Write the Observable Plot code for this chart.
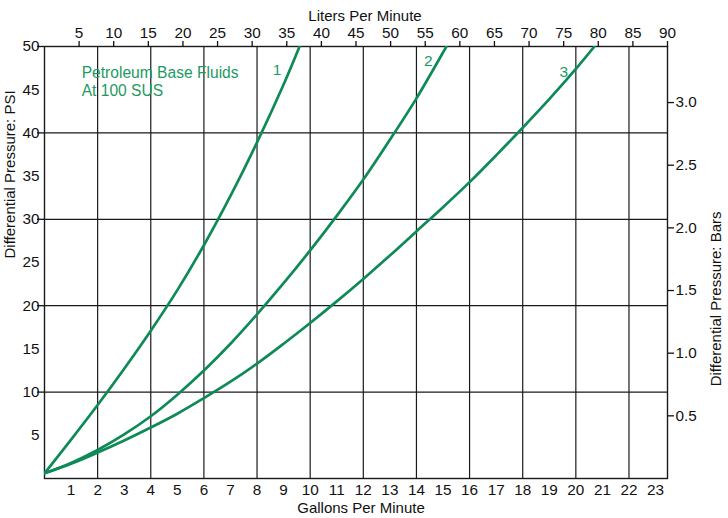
<!DOCTYPE html>
<html><head><meta charset="utf-8">
<script src="https://cdn.jsdelivr.net/npm/d3@7"></script>
<script src="https://cdn.jsdelivr.net/npm/@observablehq/plot@0.6"></script>
<style>body{margin:0;background:#fff}#chart svg{overflow:visible}</style>
</head><body><div id="chart"></div>
<script>
// Curve 1
const curve1Gpm = [0, 1, 2, 3, 4, 5, 6, 7, 8, 9, 9.6];
const curve1Psi = [0.6, 4.5, 8.5, 12.7, 17.1, 21.8, 27.0, 32.7, 38.9, 45.6, 50];
// Curve 2
const curve2Gpm = [0, 1, 2, 3, 4, 5, 6, 7, 8, 9, 10, 11, 12, 13, 14, 15, 15.13];
const curve2Psi = [0.6, 1.8, 3.3, 5.1, 7.2, 9.7, 12.5, 15.6, 19.0, 22.6, 26.4, 30.4, 34.6, 39.2, 44.0, 49.3, 50];
// Curve 3
const curve3Gpm = [0, 1, 2, 3, 4, 5, 6, 7, 8, 9, 10, 11, 12, 13, 14, 15, 16, 17, 18, 19, 20, 20.7];
const curve3Psi = [0.6, 1.7, 3.0, 4.4, 5.9, 7.5, 9.3, 11.2, 13.3, 15.6, 18.0, 20.5, 23.1, 25.8, 28.6, 31.4, 34.3, 37.4, 40.6, 43.9, 47.4, 50];

const curveLabels = ["1", "2", "3"];
const curveLabelGpm = [8.75, 14.45, 19.55];
const curveLabelPsi = [47.3, 48.3, 47.0];

const noteText = "Petroleum Base Fluids\nAt 100 SUS";
const noteGpm = 1.4, notePsi = 46.0;

const gpmTicks = d3.range(1, 24);
const literTicks = d3.range(5, 95, 5);
const psiTicks = d3.range(5, 55, 5);
const psiMajor = [10, 20, 30, 40, 50];
const barTicks = [0.5, 1.0, 1.5, 2.0, 2.5, 3.0];
const gridGpm = d3.range(2, 23, 2);
const gridPsi = [10, 20, 30, 40];

const GPM_MAX = 23.45, LPM_MAX = 90, PSI_MAX = 50, PSI_PER_BAR = 14.5038;

const rows = [];
[[curve1Gpm, curve1Psi, "1"], [curve2Gpm, curve2Psi, "2"], [curve3Gpm, curve3Psi, "3"]]
  .forEach(([xs, ys, k]) => xs.forEach((x, i) => rows.push({curve: k, gpm: x, psi: ys[i]})));
const labelRows = curveLabels.map((t, i) => ({t, gpm: curveLabelGpm[i], psi: curveLabelPsi[i]}));

const green = "#0e8a57", textGreen = "#1d9a62";
const tickFont = 15.3, titleFont = 15;

const chart = Plot.plot({
  width: 728, height: 518,
  marginLeft: 44, marginRight: 61, marginTop: 46, marginBottom: 40,
  style: {fontFamily: "'Liberation Sans', Arial, sans-serif", fontSize: "15px", color: "#111", background: "#fff"},
  x: {domain: [0, GPM_MAX], axis: null, label: null},
  y: {domain: [0, PSI_MAX], axis: null, label: null},
  marks: [
    Plot.ruleX(gridGpm, {stroke: "#1a1a1a", strokeWidth: 1.2}),
    Plot.ruleY(gridPsi, {stroke: "#1a1a1a", strokeWidth: 1.2}),
    Plot.frame({stroke: "#1a1a1a", strokeWidth: 1.4}),
    // bottom axis (gallons)
    Plot.axisX(gpmTicks, {anchor: "bottom", label: null, tickSize: 0, tickPadding: 6, fontSize: tickFont, tickFormat: d => d}),
    // top axis (liters)
    Plot.axisX(literTicks.map(l => l * GPM_MAX / LPM_MAX), {anchor: "top", label: null, tickSize: 6, tickPadding: 3, strokeWidth: 1.3, fontSize: tickFont,
      tickFormat: d => Math.round(d * LPM_MAX / GPM_MAX)}),
    // left axis (psi)
    Plot.axisY(psiMajor, {anchor: "left", label: null, tickSize: 7, strokeWidth: 1.3, text: null}),
    Plot.axisY(psiTicks, {anchor: "left", label: null, tickSize: 0, tickPadding: 5, fontSize: tickFont, tickFormat: d => d}),
    // right axis (bars)
    Plot.axisY(barTicks.map(b => b * PSI_PER_BAR), {anchor: "right", label: null, tickSize: 6, tickPadding: 2, strokeWidth: 1.3, fontSize: tickFont,
      tickFormat: d => (d / PSI_PER_BAR).toFixed(1)}),
    // titles
    Plot.text(["Liters Per Minute"], {frameAnchor: "top", dx: 9, dy: -36, fontSize: titleFont}),
    Plot.text(["Gallons Per Minute"], {frameAnchor: "bottom", dx: 5, dy: 34, fontSize: titleFont}),
    Plot.text(["Differential Pressure: PSI"], {frameAnchor: "left", rotate: -90, dx: -34, dy: -4, fontSize: titleFont}),
    Plot.text(["Differential Pressure: Bars"], {frameAnchor: "right", rotate: -90, dx: 49, dy: -51, fontSize: titleFont}),
    // curves
    Plot.line(rows, {x: "gpm", y: "psi", z: "curve", stroke: green, strokeWidth: 2.7, curve: "catmull-rom", clip: true}),
    Plot.text(labelRows, {x: "gpm", y: "psi", text: "t", fill: textGreen, fontSize: 15.5}),
    Plot.text([noteText], {x: () => noteGpm, y: () => notePsi, textAnchor: "start", fill: textGreen, fontSize: 15.6, lineHeight: 1.2})
  ]
});
document.getElementById("chart").appendChild(chart);
</script>
</body></html>
